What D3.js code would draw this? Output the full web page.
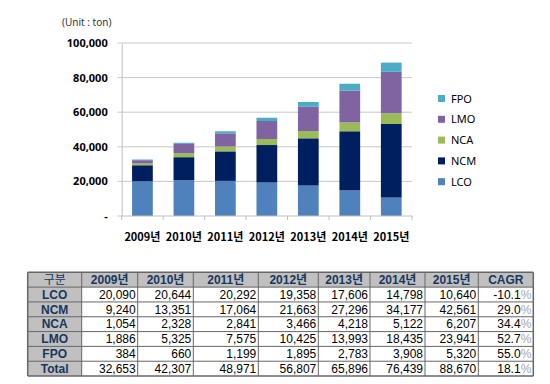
<!DOCTYPE html>
<html>
<head>
<meta charset="utf-8">
<script src="https://cdn.jsdelivr.net/npm/d3@7"></script>
<style>
  body { margin: 0; background: #fff; }
  svg { display: block; }
</style>
</head>
<body>
<div id="chart"></div>
<script>
const years = ['2009년', '2010년', '2011년', '2012년', '2013년', '2014년', '2015년'];
const series = ['LCO', 'NCM', 'NCA', 'LMO', 'FPO'];
const LCO = [20090, 20644, 20292, 19358, 17606, 14798, 10640];
const NCM = [9240, 13351, 17064, 21663, 27296, 34177, 42561];
const NCA = [1054, 2328, 2841, 3466, 4218, 5122, 6207];
const LMO = [1886, 5325, 7575, 10425, 13993, 18435, 23941];
const FPO = [384, 660, 1199, 1895, 2783, 3908, 5320];
const totals = [32653, 42307, 48971, 56807, 65896, 76439, 88670];
const cagr = ['-10.1', '29.0', '34.4', '52.7', '55.0', '18.1'];
const yTicks = [0, 20000, 40000, 60000, 80000, 100000];
const colors = {LCO: '#4f81bd', NCM: '#001f5f', NCA: '#9bbb59', LMO: '#8064a2', FPO: '#4bacc6'};

const values = {LCO, NCM, NCA, LMO, FPO};
const rows = years.map((y, i) => {
  const r = {year: y};
  series.forEach(s => { r[s] = values[s][i]; });
  return r;
});

const width = 550, height = 384;
const plot = {left: 121.7, right: 412, top: 43, bottom: 216};

const svg = d3.select('#chart').append('svg').attr('width', width).attr('height', height);

const x = d3.scaleBand().domain(years).range([plot.left, plot.right]).paddingInner(0.5).paddingOuter(0.25);
const y = d3.scaleLinear().domain([0, 100000]).range([plot.bottom, plot.top]);

// grid lines
svg.append('g').selectAll('line').data(yTicks.slice(1)).enter().append('line')
  .attr('x1', plot.left - 4).attr('x2', plot.right)
  .attr('y1', d => y(d)).attr('y2', d => y(d))
  .attr('stroke', '#c8c8c8').attr('stroke-width', 1);

// y axis
const yAxis = d3.axisLeft(y).tickValues(yTicks).tickSize(0).tickPadding(14)
  .tickFormat(d => d === 0 ? '-' : d3.format(',')(d));
const yAxisBlock = svg.append('g').attr('transform', 'translate(' + plot.left + ',0)').call(yAxis);
yAxisBlock.select('.domain').attr('stroke', '#bfbfbf');
yAxisBlock.selectAll('text').style('font-family', '"Noto Sans", sans-serif').style('font-size', '11px')
  .style('font-weight', 'bold').attr('fill', '#000');

// stacked bars
const stack = d3.stack().keys(series)(rows);
svg.append('g').selectAll('g').data(stack).enter().append('g')
  .attr('fill', d => colors[d.key])
  .selectAll('rect').data(d => d).enter().append('rect')
  .attr('x', d => x(d.data.year))
  .attr('width', x.bandwidth())
  .attr('y', d => y(d[1]))
  .attr('height', d => y(d[0]) - y(d[1]));

// x axis
const xAxisBlock = svg.append('g').attr('transform', 'translate(0,' + plot.bottom + ')');
xAxisBlock.append('line').attr('x1', plot.left - 4).attr('x2', plot.right).attr('stroke', '#bfbfbf');
const step = (plot.right - plot.left) / years.length;
const edges = d3.range(years.length + 1).map(i => plot.left + i * step);
xAxisBlock.selectAll('line.tick').data(edges).enter().append('line').attr('class', 'tick')
  .attr('x1', d => d).attr('x2', d => d).attr('y1', 0).attr('y2', 4).attr('stroke', '#bfbfbf');
xAxisBlock.selectAll('text').data(years).enter().append('text')
  .attr('x', d => x(d) + x.bandwidth() / 2).attr('y', 25)
  .attr('text-anchor', 'middle')
  .style('font-family', '"Noto Sans CJK KR", sans-serif').style('font-size', '11px').style('font-weight', 'bold')
  .text(d => d);

// unit label
svg.append('text').attr('x', 62).attr('y', 26)
  .style('font-family', '"Noto Sans", sans-serif').style('font-size', '10px').attr('fill', '#333')
  .text('(Unit : ton)');

// legend
const legend = svg.append('g').attr('transform', 'translate(438,95)');
series.slice().reverse().forEach((s, i) => {
  const g = legend.append('g').attr('transform', 'translate(0,' + i * 20.8 + ')');
  g.append('rect').attr('width', 7).attr('height', 7).attr('fill', colors[s]);
  g.append('text').attr('x', 13).attr('y', 7.5)
    .style('font-family', '"Noto Sans", sans-serif').style('font-size', '11px').attr('fill', '#000')
    .text(s);
});

// table
const colEdges = [27.7, 81.7, 137.7, 193.3, 258.3, 318.3, 370, 425, 478.3, 533.3];
const tTop = 272.3, rowH = 14.82;
const header = ['구분'].concat(years, ['CAGR']);
const tableRows = series.map(s => [s].concat(values[s].map(d3.format(',')), [cagr[series.indexOf(s)]]));
tableRows.push(['Total'].concat(totals.map(d3.format(',')), [cagr[5]]));
const table = svg.append('g');
const nRows = tableRows.length + 1;
const tFont = '"Liberation Sans", Arial, "Noto Sans CJK KR", sans-serif';

// gray header row and first column
table.append('rect').attr('x', colEdges[0]).attr('y', tTop)
  .attr('width', colEdges[colEdges.length - 1] - colEdges[0]).attr('height', rowH).attr('fill', '#c0c0c0');
table.append('rect').attr('x', colEdges[0]).attr('y', tTop)
  .attr('width', colEdges[1] - colEdges[0]).attr('height', rowH * nRows).attr('fill', '#c0c0c0');

d3.range(nRows + 1).forEach(i => {
  table.append('line').attr('x1', colEdges[0]).attr('x2', colEdges[colEdges.length - 1])
    .attr('y1', tTop + i * rowH).attr('y2', tTop + i * rowH)
    .attr('stroke', '#666').attr('stroke-width', (i === 0 || i === nRows) ? 1.5 : 1);
});
colEdges.forEach((cx, i) => {
  table.append('line').attr('x1', cx).attr('x2', cx).attr('y1', tTop).attr('y2', tTop + nRows * rowH)
    .attr('stroke', '#666').attr('stroke-width', (i === 0 || i === colEdges.length - 1) ? 1.5 : 1);
});

header.forEach((h, j) => {
  table.append('text').attr('x', (colEdges[j] + colEdges[j + 1]) / 2).attr('y', tTop + rowH / 2 + 4.3)
    .attr('text-anchor', 'middle')
    .style('font-family', tFont)
    .style('font-size', '12px').style('font-weight', j === 0 ? 'normal' : 'bold').attr('fill', '#17375e')
    .text(h);
});

tableRows.forEach((r, i) => {
  const cy = tTop + (i + 1) * rowH + rowH / 2 + 4.3;
  r.forEach((v, j) => {
    if (j === 0) {
      table.append('text').attr('x', (colEdges[0] + colEdges[1]) / 2).attr('y', cy)
        .attr('text-anchor', 'middle')
        .style('font-family', tFont).style('font-size', '12px').style('font-weight', 'bold')
        .attr('fill', '#17375e').text(v);
    } else if (j === r.length - 1) {
      const t = table.append('text').attr('x', colEdges[j + 1] - 2).attr('y', cy).attr('text-anchor', 'end')
        .style('font-family', tFont).style('font-size', '12px').attr('fill', '#000');
      t.append('tspan').text(v);
      t.append('tspan').attr('fill', '#a6a6a6').text('%');
    } else {
      table.append('text').attr('x', colEdges[j + 1] - 2).attr('y', cy).attr('text-anchor', 'end')
        .style('font-family', tFont).style('font-size', '12px').attr('fill', '#000')
        .text(v);
    }
  });
});
</script>
</body>
</html>
